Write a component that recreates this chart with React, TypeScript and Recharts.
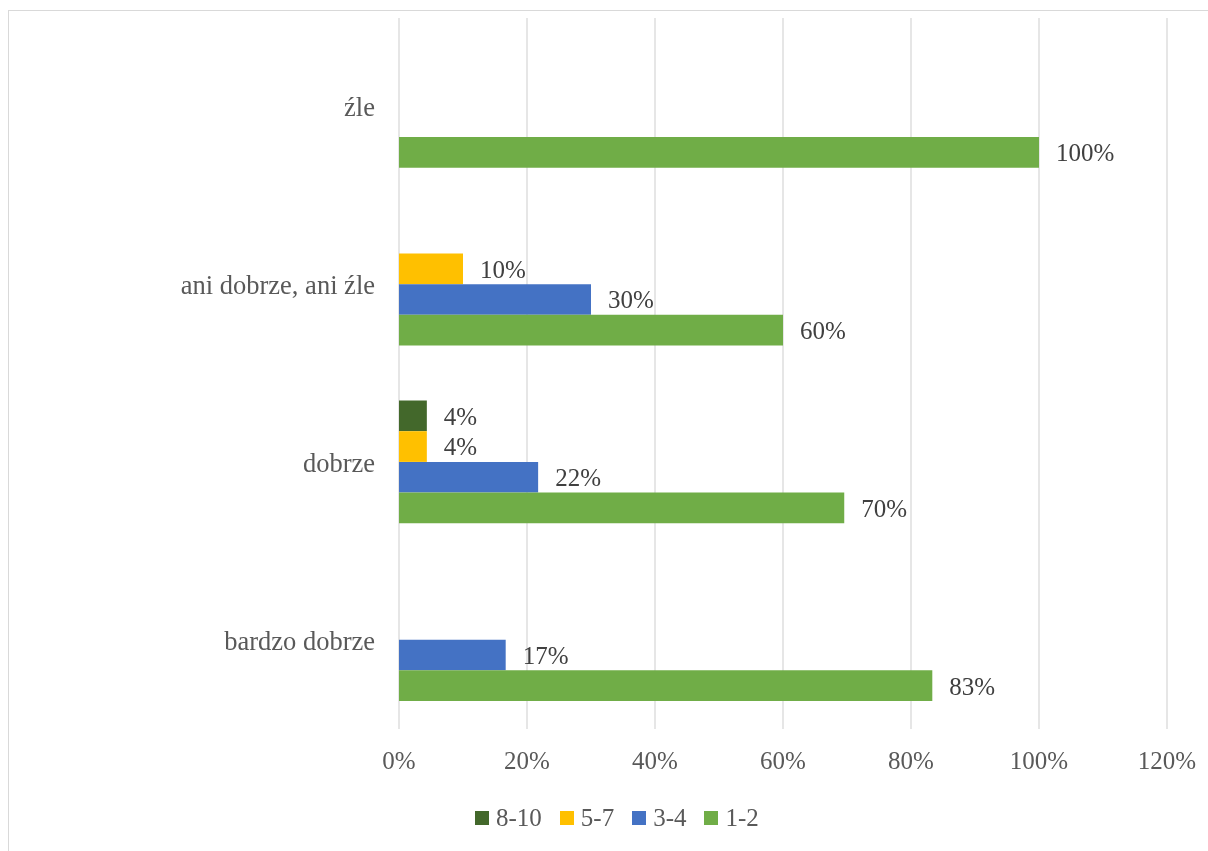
import { BarChart, Bar, XAxis, YAxis, CartesianGrid, LabelList } from 'recharts';

const categories = ['źle', 'ani dobrze, ani źle', 'dobrze', 'bardzo dobrze'];
const s8to10 = [null, null, 4.35, null];
const s5to7 = [null, 10, 4.35, null];
const s3to4 = [null, 30, 21.74, 16.67];
const s1to2 = [100, 60, 69.57, 83.33];
const xTicks = [0, 20, 40, 60, 80, 100, 120];

const series = [
  { key: 'a', name: '8-10', color: '#43682b', values: s8to10 },
  { key: 'b', name: '5-7', color: '#ffc000', values: s5to7 },
  { key: 'c', name: '3-4', color: '#4472c4', values: s3to4 },
  { key: 'd', name: '1-2', color: '#70ad47', values: s1to2 },
];

const data = categories.map((name, i) => {
  const row: any = { name };
  series.forEach((s) => {
    row[s.key] = s.values[i];
  });
  return row;
});

const FONT = '"Liberation Serif", "DejaVu Serif", serif';

const fmtLabel = (v: any) => (v == null ? '' : `${Math.round(Number(v))}%`);

export default function App() {
  return (
    <div style={{ position: 'relative', width: 1192, height: 835 }}>
      {/* outer frame, only top and left edges show in the original */}
      <div
        style={{
          position: 'fixed',
          left: 8,
          top: 10,
          width: 1300,
          height: 1000,
          borderTop: '1.5px solid #d9d9d9',
          borderLeft: '1.5px solid #d9d9d9',
          pointerEvents: 'none',
        }}
      />
      <BarChart
        width={1192}
        height={835}
        data={data}
        layout="vertical"
        margin={{ top: 10, right: 33, left: 0, bottom: 0 }}
        barGap={0}
        barSize={30.7}
        style={{ position: 'absolute', left: 0, top: 0 }}
      >
        <CartesianGrid horizontal={false} stroke="#d9d9d9" strokeWidth={1.3} />
        <XAxis
          type="number"
          domain={[0, 120]}
          ticks={xTicks}
          tickFormatter={(v) => `${v}%`}
          axisLine={false}
          tickLine={false}
          tickMargin={16}
          height={114}
          tick={{ fill: '#595959', fontSize: 25, fontFamily: FONT }}
        />
        <YAxis
          type="category"
          dataKey="name"
          width={391}
          axisLine={false}
          tickLine={false}
          tickMargin={18}
          tick={{ fill: '#595959', fontSize: 26.5, fontFamily: FONT }}
        />
        {series.map((s) => (
          <Bar key={s.key} dataKey={s.key} name={s.name} fill={s.color} isAnimationActive={false}>
            <LabelList
              dataKey={s.key}
              position="right"
              offset={17}
              formatter={fmtLabel}
              fill="#404040"
              fontSize={25}
              fontFamily={FONT}
            />
          </Bar>
        ))}
      </BarChart>
      <div
        style={{
          position: 'absolute',
          left: 467,
          top: 795,
          height: 30,
          display: 'flex',
          alignItems: 'center',
          fontFamily: FONT,
          fontSize: 25,
          color: '#595959',
        }}
      >
        {series.map((s) => (
          <div key={s.key} style={{ display: 'flex', alignItems: 'center', marginRight: 18 }}>
            <span style={{ width: 14, height: 14, background: s.color, display: 'inline-block', marginRight: 7 }} />
            <span>{s.name}</span>
          </div>
        ))}
      </div>
    </div>
  );
}
